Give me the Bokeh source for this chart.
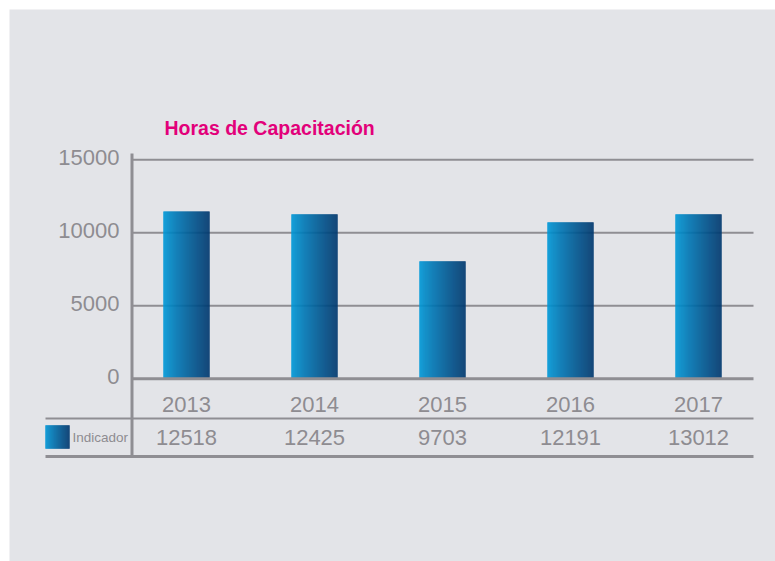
import numpy as np
from bokeh.plotting import figure
from bokeh.models import Range1d, ColumnDataSource
from bokeh.core.properties import value
from bokeh.embed import file_html
from bokeh.resources import INLINE

# ---- data ----
title = "Horas de Capacitación"
years = ["2013", "2014", "2015", "2016", "2017"]
bar_values = [11450, 11250, 8030, 10700, 11250]          # bar heights as drawn
table_values = ["12518", "12425", "9703", "12191", "13012"]  # values in the table row
series_name = "Indicador"
y_ticks = [0, 5000, 10000, 15000]

# ---- styling / layout (page pixel geometry) ----
BG = "#e3e4e8"
GRAY = "#8e8c91"
LINE = "#8f8e93"
MAGENTA = "#e2007a"
C_LEFT = np.array([0, 154, 218])
C_RIGHT = np.array([0, 56, 110])
FONT = "Liberation Sans"

ORIG = 9                 # page position of figure origin
W, H = 775 - ORIG, 561 - ORIG
X0, SX = 186.0, 128.0    # page x of first category, px per category
Y0, SY = 378.3, 0.0146   # page y of zero, px per unit value


def dx(px):
    return (px - X0) / SX


def dy(py):
    return (Y0 - py) / SY


p = figure(width=W, height=H, output_backend="svg", toolbar_location=None,
           x_axis_type=None, y_axis_type=None,
           x_range=Range1d(dx(ORIG), dx(ORIG + W)),
           y_range=Range1d(dy(ORIG + H), dy(ORIG)),
           min_border=0)
p.margin = (ORIG, 0, 0, ORIG)
p.background_fill_color = BG
p.border_fill_color = BG
p.outline_line_color = None
p.xgrid.visible = False
p.ygrid.visible = False


def hex_color(c):
    c = np.clip(np.round(c), 0, 255).astype(int)
    return "#%02x%02x%02x" % tuple(c)


def gradient_quads(lefts, rights, tops, bottoms, n=46):
    L, R, T, B, C = [], [], [], [], []
    for l, r, t, b in zip(lefts, rights, tops, bottoms):
        edges = np.linspace(l, r, n + 1)
        for k in range(n):
            f = ((k + 0.5) / n) ** 0.85
            L.append(edges[k]); R.append(edges[k + 1]); T.append(t); B.append(b)
            C.append(hex_color(C_LEFT + (C_RIGHT - C_LEFT) * f))
    src = ColumnDataSource(dict(left=L, right=R, top=T, bottom=B, color=C))
    p.quad(left="left", right="right", top="top", bottom="bottom", source=src,
           fill_color="color", fill_alpha=1.0, line_color="color",
           line_alpha=1.0, line_width=0.4)


# grid lines
grid_y = [t for t in y_ticks if t != 0]
p.segment(x0=[dx(131)] * len(grid_y), x1=[dx(753)] * len(grid_y),
          y0=grid_y, y1=grid_y, line_color=LINE, line_width=2)

# bars
xs = np.arange(len(years))
bw = 46 / SX
gradient_quads(xs - bw / 2, xs + bw / 2, bar_values, [0] * len(years))

# baseline and axis line
p.segment(x0=[dx(131)], x1=[dx(753)], y0=[0], y1=[0], line_color=LINE, line_width=3)
p.segment(x0=[dx(131.5)], x1=[dx(131.5)], y0=[dy(153)], y1=[dy(457)],
          line_color=LINE, line_width=3)

# table lines
p.segment(x0=[dx(45)], x1=[dx(753)], y0=[dy(418)], y1=[dy(418)],
          line_color=LINE, line_width=2)
p.segment(x0=[dx(45)], x1=[dx(753)], y0=[dy(456)], y1=[dy(456)],
          line_color=LINE, line_width=3)

# y tick labels
p.text(x=[dx(119)] * len(y_ticks), y=[t + 2.5 / SY for t in y_ticks],
       text=[str(t) for t in y_ticks], text_align="right", text_baseline="middle",
       text_font=value(FONT), text_font_size="22px", text_color=GRAY)

# year labels and table values
p.text(x=xs, y=[dy(403.5)] * len(years), text=years, text_align="center",
       text_baseline="middle", text_font=value(FONT), text_font_size="22px",
       text_color=GRAY)
p.text(x=xs, y=[dy(436.5)] * len(years), text=table_values, text_align="center",
       text_baseline="middle", text_font=value(FONT), text_font_size="22px",
       text_color=GRAY)

# legend key + name
gradient_quads([dx(45)], [dx(69)], [dy(425)], [dy(448)], n=24)
p.text(x=[dx(72)], y=[dy(437)], text=[series_name], text_align="left",
       text_baseline="middle", text_font=value(FONT), text_font_size="13.5px",
       text_color=GRAY)

# title
p.text(x=[dx(164)], y=[dy(127)], text=[title], text_align="left",
       text_baseline="middle", text_font=value(FONT), text_font_size="19.5px",
       text_font_style="bold", text_color=MAGENTA)

open("out.html", "w").write(file_html(p, INLINE))
